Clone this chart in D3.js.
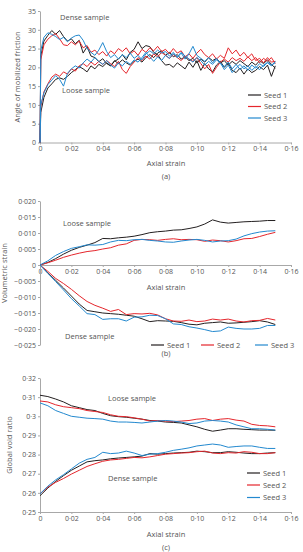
<!DOCTYPE html>
<html>
<head>
<meta charset="utf-8">
<script src="https://cdn.jsdelivr.net/npm/d3@7"></script>
<style>
body { margin: 0; background: #fff; }
text { font-family: "Open Sans", sans-serif; fill: #555; }
.axis path, .axis line { stroke: #a8a8a8; }
.axis text { font-size: 7px; fill: #555; }
</style>
</head>
<body>
<div id="chart"></div>
<script>
// ##### data #####
var seeds = ['Seed 1', 'Seed 2', 'Seed 3'];
var seedColors = ['#231f20', '#e5262c', '#2389cf'];

// panel (a) strain grid
var strainA = [0, 0.0005, 0.0025, 0.005, 0.0075, 0.01, 0.0125, 0.015, 0.0175, 0.02, 0.0225, 0.025, 0.0275, 0.03, 0.0325, 0.035, 0.0375, 0.04, 0.0425, 0.045, 0.0475, 0.05,
	0.0525, 0.055, 0.0575, 0.06, 0.0625, 0.065, 0.0675, 0.07, 0.0725, 0.075, 0.0775, 0.08, 0.0825, 0.085, 0.0875, 0.09, 0.0925, 0.095, 0.0975, 0.1,
	0.1025, 0.105, 0.1075, 0.11, 0.1125, 0.115, 0.1175, 0.12, 0.1225, 0.125, 0.1275, 0.13, 0.1325, 0.135, 0.1375, 0.14, 0.1425, 0.145, 0.1475, 0.15];

var frictionDense1 = [0, 23, 27, 28.5, 29.8, 28.8, 29.8, 28.2, 27, 27.6, 26.3, 27.2, 23.8, 25.5, 23, 22.6, 21.5, 22.3, 21, 20.4, 21.6, 22.2,
	23.4, 22, 24, 24.8, 26.8, 25, 25.8, 25.5, 24, 23.4, 21.8, 20.6, 20.8, 20, 21.2, 20.4, 19.6, 21.4, 20, 21.8,
	19.2, 21, 19.6, 18.8, 20.6, 21.6, 20, 21.2, 19.2, 18.6, 19.8, 18.2, 19.6, 18.6, 19.2, 20.2, 19.4, 20.6, 17.6, 20.4];
var frictionDense2 = [0, 22, 26, 27.5, 28.4, 29, 27.6, 26, 25.8, 26.8, 26, 27, 25.2, 25.8, 24, 24.6, 23.4, 24.2, 23, 24.4, 23.6, 25,
	24.2, 25.2, 23.6, 24.4, 23.2, 24.8, 24, 25.2, 24.4, 25.6, 24.2, 24.8, 23.6, 25, 23.8, 24.4, 22.8, 23.6, 22.4, 23.8,
	24.8, 23.4, 22.6, 23.6, 22.2, 23.2, 22.4, 25.2, 23.6, 24.6, 23, 24, 22.6, 23.6, 21.8, 22.4, 21.2, 22.6, 21.4, 21.6];
var frictionDense3 = [0, 24.5, 28, 29.2, 28.8, 28.2, 27.4, 28, 26.8, 27.8, 28.4, 28.6, 27.2, 25, 24, 23.2, 24.6, 26.6, 24.2, 22.6, 23.4, 22.2,
	23.4, 22.6, 23.8, 22.4, 23.2, 22, 23.6, 24.4, 23.6, 24.6, 23.8, 24.2, 23, 24, 22.6, 23.8, 22.2, 23.6, 25.6, 23.2,
	22.4, 21.6, 22.6, 21.2, 22.4, 21, 20.2, 21.4, 19.6, 20.8, 19.4, 20.4, 19.2, 20.6, 19.8, 21, 20.2, 21.4, 20.6, 21.2];
var frictionLoose1 = [0, 8, 12, 14.5, 15.6, 16.8, 17.2, 16.8, 17.6, 18.6, 19.4, 20.2, 19.6, 18.8, 20.4, 19.6, 20.8, 20.2, 21.2, 20.4, 21.8, 21,
	22, 21.2, 20.6, 21.6, 22.2, 21.4, 22.6, 23.4, 22.6, 23.8, 24.4, 23.2, 24, 22.8, 23.4, 22.2, 22.8, 21.8, 22.4, 21.2,
	22.2, 21.4, 22.6, 21.8, 22.4, 21.2, 21.8, 20.6, 21.6, 20.8, 21.8, 21, 20.2, 21.4, 20.6, 21.8, 21, 22, 20.8, 19.8];
var frictionLoose2 = [0, 9.5, 13.5, 15.6, 17.4, 18.2, 17.6, 18.8, 18.2, 19.6, 19, 20.4, 21, 20.2, 21.4, 20.6, 21.6, 20.8, 21.8, 21, 20.2, 21.6,
	19.4, 18.4, 20.2, 21.4, 22.6, 21.8, 23, 22.2, 23.6, 22.8, 24, 23.2, 22.4, 23.4, 22.6, 21.8, 23, 22.2, 21.6, 22.6,
	21, 19.6, 20.8, 18.4, 20, 21.4, 22.2, 21.4, 22.6, 21.8, 22.4, 21.6, 22.8, 21.8, 22.6, 21.2, 22.4, 21.6, 22.6, 21];
var frictionLoose3 = [0, 10, 13.2, 15.4, 16.6, 17.8, 16.8, 15, 18.4, 19.6, 20.4, 19.8, 21.2, 22.2, 21.4, 22.6, 21.6, 20.8, 21.8, 20.6, 19.8, 21.2,
	20.4, 21.6, 20.8, 22, 21.4, 22.6, 24, 22.8, 21.6, 22.8, 21.8, 23.2, 22.4, 23.6, 22.8, 24, 23, 22.2, 21.4, 22.6,
	21.8, 20.6, 21.6, 20.8, 22, 21.2, 19.4, 20.6, 18.6, 19.8, 20.8, 19.6, 20.4, 19.2, 20.2, 19.4, 20.6, 21.2, 20.4, 21.6];

// panels (b) and (c) strain grid
var strainBC = [0, 0.005, 0.01, 0.015, 0.02, 0.025, 0.03, 0.035, 0.04, 0.045, 0.05, 0.055, 0.06, 0.065, 0.07, 0.075,
	0.08, 0.085, 0.09, 0.095, 0.1, 0.105, 0.11, 0.115, 0.12, 0.125, 0.13, 0.135, 0.14, 0.145, 0.15];

var volLoose1 = [0, 0.0008, 0.002, 0.0034, 0.0046, 0.0055, 0.0062, 0.007, 0.0083, 0.0082, 0.0085, 0.0087, 0.009, 0.0095, 0.0101, 0.0104,
	0.0106, 0.0109, 0.011, 0.0114, 0.0119, 0.0128, 0.0141, 0.0134, 0.0131, 0.0133, 0.0135, 0.0136, 0.0137, 0.0139, 0.0139];
var volLoose2 = [0, 0.0007, 0.0015, 0.0024, 0.0031, 0.0037, 0.0042, 0.0045, 0.005, 0.0054, 0.0062, 0.0066, 0.0077, 0.008, 0.0079, 0.0077,
	0.008, 0.0082, 0.0079, 0.008, 0.0079, 0.0074, 0.0078, 0.0076, 0.0072, 0.0076, 0.0082, 0.0083, 0.0089, 0.0096, 0.0102];
var volLoose3 = [0, 0.0013, 0.003, 0.0042, 0.0052, 0.0057, 0.0063, 0.0062, 0.0064, 0.0072, 0.0077, 0.0076, 0.0079, 0.008, 0.0077, 0.0075,
	0.0072, 0.0071, 0.0075, 0.0078, 0.008, 0.0077, 0.0072, 0.0075, 0.0076, 0.0081, 0.0091, 0.0098, 0.0103, 0.0106, 0.0107];
var volDense1 = [0, -0.0025, -0.0048, -0.0072, -0.0097, -0.0122, -0.0142, -0.0146, -0.015, -0.0152, -0.0154, -0.0157, -0.016, -0.0168, -0.0177, -0.0174,
	-0.0175, -0.0176, -0.018, -0.0185, -0.0187, -0.0182, -0.018, -0.0178, -0.0182, -0.0181, -0.0179, -0.0177, -0.0174, -0.0178, -0.0186];
var volDense2 = [0, -0.002, -0.0042, -0.0058, -0.0076, -0.0096, -0.0114, -0.0126, -0.0135, -0.0145, -0.0139, -0.0155, -0.0152, -0.0153, -0.0151, -0.0156,
	-0.0168, -0.0175, -0.0176, -0.0172, -0.0177, -0.0175, -0.0169, -0.0172, -0.0169, -0.0175, -0.0178, -0.0174, -0.0173, -0.0167, -0.0172];
var volDense3 = [0, -0.0026, -0.0052, -0.0078, -0.0105, -0.0128, -0.0152, -0.0155, -0.017, -0.0168, -0.0168, -0.0175, -0.0163, -0.0162, -0.0157, -0.0158,
	-0.0168, -0.0184, -0.0186, -0.0193, -0.0197, -0.0202, -0.0208, -0.0206, -0.0194, -0.0198, -0.02, -0.02, -0.0198, -0.0189, -0.0189];

var voidLoose1 = [0.311, 0.3103, 0.309, 0.3075, 0.3055, 0.3045, 0.3035, 0.303, 0.3015, 0.3003, 0.2998, 0.2995, 0.299, 0.2985, 0.2978, 0.2975,
	0.297, 0.2968, 0.2965, 0.2955, 0.2945, 0.2932, 0.2922, 0.2928, 0.2935, 0.2935, 0.2932, 0.293, 0.2928, 0.2928, 0.2927];
var voidLoose2 = [0.308, 0.3075, 0.306, 0.305, 0.3045, 0.304, 0.303, 0.3025, 0.302, 0.3008, 0.3, 0.2998, 0.2992, 0.2985, 0.2975, 0.2978,
	0.2975, 0.2972, 0.2975, 0.2978, 0.2985, 0.2988, 0.2978, 0.2985, 0.2988, 0.298, 0.2975, 0.2958, 0.2952, 0.295, 0.2945];
var voidLoose3 = [0.307, 0.3055, 0.303, 0.3015, 0.3, 0.2995, 0.299, 0.2988, 0.2985, 0.2975, 0.297, 0.297, 0.2968, 0.2965, 0.297, 0.2975,
	0.2978, 0.2975, 0.297, 0.2962, 0.2965, 0.2975, 0.2978, 0.2975, 0.297, 0.2955, 0.2945, 0.2935, 0.2935, 0.2932, 0.2928];
var voidDense1 = [0.2585, 0.2625, 0.266, 0.269, 0.2718, 0.274, 0.2762, 0.2768, 0.2772, 0.2778, 0.2782, 0.2785, 0.2788, 0.2792, 0.2805, 0.2802,
	0.2805, 0.2808, 0.281, 0.2812, 0.2818, 0.2815, 0.281, 0.281, 0.2815, 0.2812, 0.2808, 0.2805, 0.2805, 0.2808, 0.281];
var voidDense2 = [0.2595, 0.263, 0.2655, 0.2675, 0.2698, 0.2718, 0.2738, 0.2752, 0.2765, 0.2772, 0.2775, 0.278, 0.2785, 0.2783, 0.2788, 0.2795,
	0.2802, 0.2805, 0.2808, 0.281, 0.2815, 0.2818, 0.2808, 0.2805, 0.281, 0.2808, 0.2815, 0.2812, 0.2805, 0.2805, 0.281];
var voidDense3 = [0.2595, 0.2635, 0.2668, 0.2695, 0.2725, 0.2755, 0.2775, 0.2785, 0.2812, 0.2805, 0.2808, 0.2818, 0.2808, 0.2795, 0.2802, 0.2805,
	0.2812, 0.2822, 0.2828, 0.2835, 0.2845, 0.285, 0.2855, 0.285, 0.2838, 0.2842, 0.2845, 0.2845, 0.2838, 0.2832, 0.2832];

// ##### ticks #####
var xTicks = [0, 0.02, 0.04, 0.06, 0.08, 0.10, 0.12, 0.14, 0.16];
var xTickLabels = ['0', '0·02', '0·04', '0·06', '0·08', '0·10', '0·12', '0·14', '0·16'];
var aTicks = [0, 5, 10, 15, 20, 25, 30, 35];
var aTickLabels = ['0', '5', '10', '15', '20', '25', '30', '35'];
var bTicks = [-0.025, -0.020, -0.015, -0.010, -0.005, 0, 0.005, 0.010, 0.015, 0.020];
var bTickLabels = ['−0·025', '−0·020', '−0·015', '−0·010', '−0·005', '0', '0·005', '0·010', '0·015', '0·020'];
var cTicks = [0.25, 0.26, 0.27, 0.28, 0.29, 0.30, 0.31, 0.32];
var cTickLabels = ['0·25', '0·26', '0·27', '0·28', '0·29', '0·3', '0·31', '0·32'];

// ##### drawing #####
var svg = d3.select("#chart").append("svg")
	.attr("width", 303)
	.attr("height", 552);

function drawPanel(p) {
	var g = svg.append("g");
	var x = d3.scaleLinear().domain([0, 0.16]).range([40, 291]);
	var y = d3.scaleLinear().domain(p.yDomain).range(p.yRange);

	g.append("g")
		.attr("class", "axis")
		.attr("transform", "translate(0," + y(p.xAxisAt) + ")")
		.call(d3.axisBottom(x).tickValues(xTicks).tickSize(2).tickSizeOuter(0).tickPadding(2)
			.tickFormat(function(d, i) { return xTickLabels[i]; }));

	g.append("g")
		.attr("class", "axis")
		.attr("transform", "translate(40,0)")
		.call(d3.axisLeft(y).tickValues(p.yTicks).tickSize(2).tickSizeOuter(0).tickPadding(2)
			.tickFormat(function(d, i) { return p.yTickLabels[i]; }));

	var line = d3.line()
		.x(function(d) { return x(d[0]); })
		.y(function(d) { return y(d[1]); });

	p.series.forEach(function(s) {
		g.append("path")
			.datum(d3.zip(p.strain, s.values))
			.attr("fill", "none")
			.attr("stroke", seedColors[s.seed])
			.attr("stroke-width", 1)
			.attr("stroke-linejoin", "round")
			.attr("d", line);
	});

	g.append("text").attr("x", 166).attr("y", p.xLabelY)
		.attr("text-anchor", "middle").style("font-size", "7.5px").text("Axial strain");
	g.append("text").attr("x", 166).attr("y", p.tagY)
		.attr("text-anchor", "middle").style("font-size", "7.5px").text(p.tag);
	g.append("text")
		.attr("transform", "translate(" + p.yLabelX + "," + p.yLabelMid + ") rotate(-90)")
		.attr("text-anchor", "middle").style("font-size", "7.5px").text(p.yLabel);

	p.notes.forEach(function(n) {
		g.append("text").attr("x", n[0]).attr("y", n[1]).style("font-size", "7.5px").text(n[2]);
	});

	p.legend.forEach(function(l, i) {
		g.append("line")
			.attr("x1", l[0]).attr("x2", l[0] + 13)
			.attr("y1", l[1]).attr("y2", l[1])
			.attr("stroke", seedColors[i]).attr("stroke-width", 1.2);
		g.append("text").attr("x", l[0] + 16).attr("y", l[1]).attr("dy", "0.35em")
			.style("font-size", "7.5px").text(seeds[i]);
	});
}

drawPanel({
	strain: strainA,
	yDomain: [0, 35], yRange: [142.5, 11], xAxisAt: 0,
	yTicks: aTicks, yTickLabels: aTickLabels,
	series: [
		{seed: 0, values: frictionDense1}, {seed: 0, values: frictionLoose1},
		{seed: 1, values: frictionDense2}, {seed: 1, values: frictionLoose2},
		{seed: 2, values: frictionDense3}, {seed: 2, values: frictionLoose3}
	],
	xLabelY: 165.5, tag: "(a)", tagY: 178.5,
	yLabel: "Angle of mobilized friction", yLabelX: 20, yLabelMid: 77,
	notes: [[60, 19.5, "Dense sample"], [62, 92.5, "Loose sample"]],
	legend: [[248, 95], [248, 106.5], [248, 118]]
});

drawPanel({
	strain: strainBC,
	yDomain: [-0.025, 0.020], yRange: [345, 201], xAxisAt: 0,
	yTicks: bTicks, yTickLabels: bTickLabels,
	series: [
		{seed: 0, values: volLoose1}, {seed: 0, values: volDense1},
		{seed: 1, values: volLoose2}, {seed: 1, values: volDense2},
		{seed: 2, values: volLoose3}, {seed: 2, values: volDense3}
	],
	xLabelY: 289.5, tag: "(b)", tagY: 355.5,
	yLabel: "Volumetric strain", yLabelX: 7, yLabelMid: 273,
	notes: [[63, 225.5, "Loose sample"], [65, 338.5, "Dense sample"]],
	legend: [[151, 345], [201, 345], [255, 345]]
});

drawPanel({
	strain: strainBC,
	yDomain: [0.25, 0.32], yRange: [512, 378], xAxisAt: 0.25,
	yTicks: cTicks, yTickLabels: cTickLabels,
	series: [
		{seed: 0, values: voidLoose1}, {seed: 0, values: voidDense1},
		{seed: 1, values: voidLoose2}, {seed: 1, values: voidDense2},
		{seed: 2, values: voidLoose3}, {seed: 2, values: voidDense3}
	],
	xLabelY: 536.5, tag: "(c)", tagY: 549.5,
	yLabel: "Global void ratio", yLabelX: 12, yLabelMid: 445,
	notes: [[108, 400.5, "Loose sample"], [108, 480.5, "Dense sample"]],
	legend: [[247, 473], [247, 485], [247, 497.5]]
});
</script>
</body>
</html>
